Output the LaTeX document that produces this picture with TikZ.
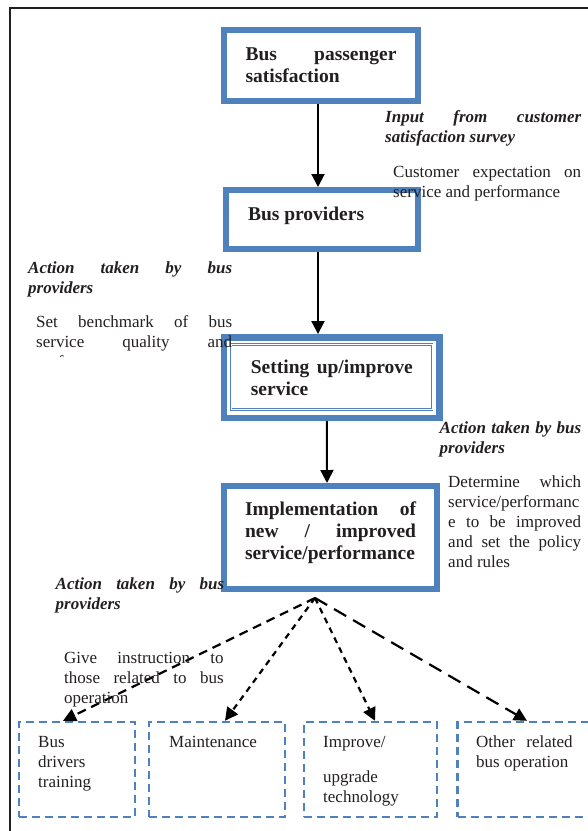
\documentclass[tikz,border=0pt]{standalone}
\usepackage{fontspec}
\setmainfont{Liberation Serif}
\usetikzlibrary{positioning,arrows.meta}
\definecolor{boxblue}{HTML}{4F81BD}
\definecolor{ink}{HTML}{231F20}
\tolerance=10000
\hbadness=10000
\hyphenpenalty=10000

\begin{document}
\begin{tikzpicture}[x=1pt,y=-1pt,
      box/.style={draw=boxblue,line width=6pt,inner xsep=21.5pt,inner ysep=2pt,align=justify,text=ink,font=\fontsize{19.5}{22}\selectfont\bfseries},
      note/.style={inner sep=0pt,anchor=base west,align=justify,text=ink,font=\fontsize{17}{20}\selectfont\bfseries\itshape},
      body/.style={inner sep=0pt,anchor=base west,align=justify,text=ink,font=\fontsize{17}{20}\selectfont},
      optbox/.style={draw=boxblue,line width=2.4pt,dash pattern=on 8pt off 5pt,minimum height=95pt},
      flow/.style={-{Triangle[width=13pt,length=13pt]},line width=2pt},
      branch/.style={-{Triangle[width=13pt,length=13pt]},line width=2.2pt}]
    \useasboundingbox (0,0) rectangle (588,831);
    % frame
    \draw[line width=1.6pt,ink] (588,8) -- (10,8) -- (10,831);
    % main chain
    \node[box,minimum width=194pt,minimum height=71pt,text width=151pt] (bps) at (321,65.5) {Bus passenger\linebreak satisfaction};
    \node[box,minimum width=192pt,minimum height=59pt,text width=148pt,inner xsep=22pt,text depth=11pt] (bpr) at (322,219.5) {Bus providers};
    \node[box,line width=6.5pt,minimum width=215.7pt,minimum height=80.5pt,text width=162pt,inner xsep=26.85pt] (setup) at (331.85,377.55) {Setting up/improve\linebreak service};
    \draw[boxblue,line width=0.8pt,double=white,double distance=0.8pt] ([shift={(10.5,10.5)}]setup.north west) rectangle ([shift={(-11,-11.5)}]setup.south east);
    \node[box,minimum width=213pt,minimum height=102.5pt,text width=171pt,inner xsep=21pt,text depth=58pt] (impl) at (330.5,537.25) {Implementation of\linebreak new / improved\linebreak service/performance};
    \draw[flow] ([xshift=-3pt]bps.south) -- ([xshift=-4pt]bpr.north);
    \draw[flow] ([xshift=-4pt]bpr.south) -- ([xshift=-13.85pt]setup.north);
    \draw[flow] ([xshift=-5pt]setup.south) -- ([xshift=-3.5pt]impl.north);
    % operation boxes
    \node[optbox,minimum width=116pt] (ba) at (77,769.5) {};
    \node[optbox,minimum width=136pt] (bb) at (217,769.5) {};
    \node[optbox,minimum width=133pt] (bc) at (370.5,769.5) {};
    \node[optbox,minimum width=148pt] (bd) at (531.5,769.5) {};
    \coordinate (fan) at (315,598);
    \draw[branch,dash pattern=on 9pt off 6pt] (fan) -- ([xshift=-14pt]ba.north);
    \draw[branch,dash pattern=on 6pt off 5pt] (fan) -- ([xshift=8pt]bb.north);
    \draw[branch,dash pattern=on 6pt off 5pt] (fan) -- ([xshift=4.5pt]bc.north);
    \draw[branch,dash pattern=on 14pt off 8pt] (fan) -- ([xshift=-4.5pt]bd.north);
    % side notes
    \node[note,text width=196pt] (inp) at (385,122) {Input from customer\linebreak satisfaction survey};
    \node[body,text width=188pt] (expc) at (393,177) {Customer expectation on\linebreak service and performance};
    \node[note,text width=204pt] (act1) at (28,273) {Action taken by bus\linebreak providers};
    \begin{scope}
      \clip (0,0) rectangle (588,356);
      \node[body,text width=196pt] (bench) at (36,327) {Set benchmark of bus\linebreak service quality and\linebreak performance};
    \end{scope}
    \node[note,text width=141.5pt] (act2) at (439.5,433) {Action taken by bus\linebreak providers};
    \node[body,text width=133pt] (detr) at (448,487) {Determine which\linebreak service/performanc\linebreak e to be improved\linebreak and set the policy\linebreak and rules};
    \node[note,text width=168.5pt] (act3) at (55.5,589) {Action taken by bus\linebreak providers};
    \node[body,text width=159.5pt] (give) at (64,663) {Give instruction to\linebreak those related to bus\linebreak operation};
    % box labels
    \node[body,align=left,text width=90pt] (ta) at (38,747) {Bus\\ drivers\\ training};
    \node[body,align=left,text width=110pt] (tb) at (169,747) {Maintenance};
    \node[body,align=left,text width=110pt] (tc) at (323,747) {Improve/\\[15pt] upgrade\\ technology};
    \node[body,text width=96.5pt] (td) at (476,747) {Other related\linebreak bus operation};
  \end{tikzpicture}
\end{document}
